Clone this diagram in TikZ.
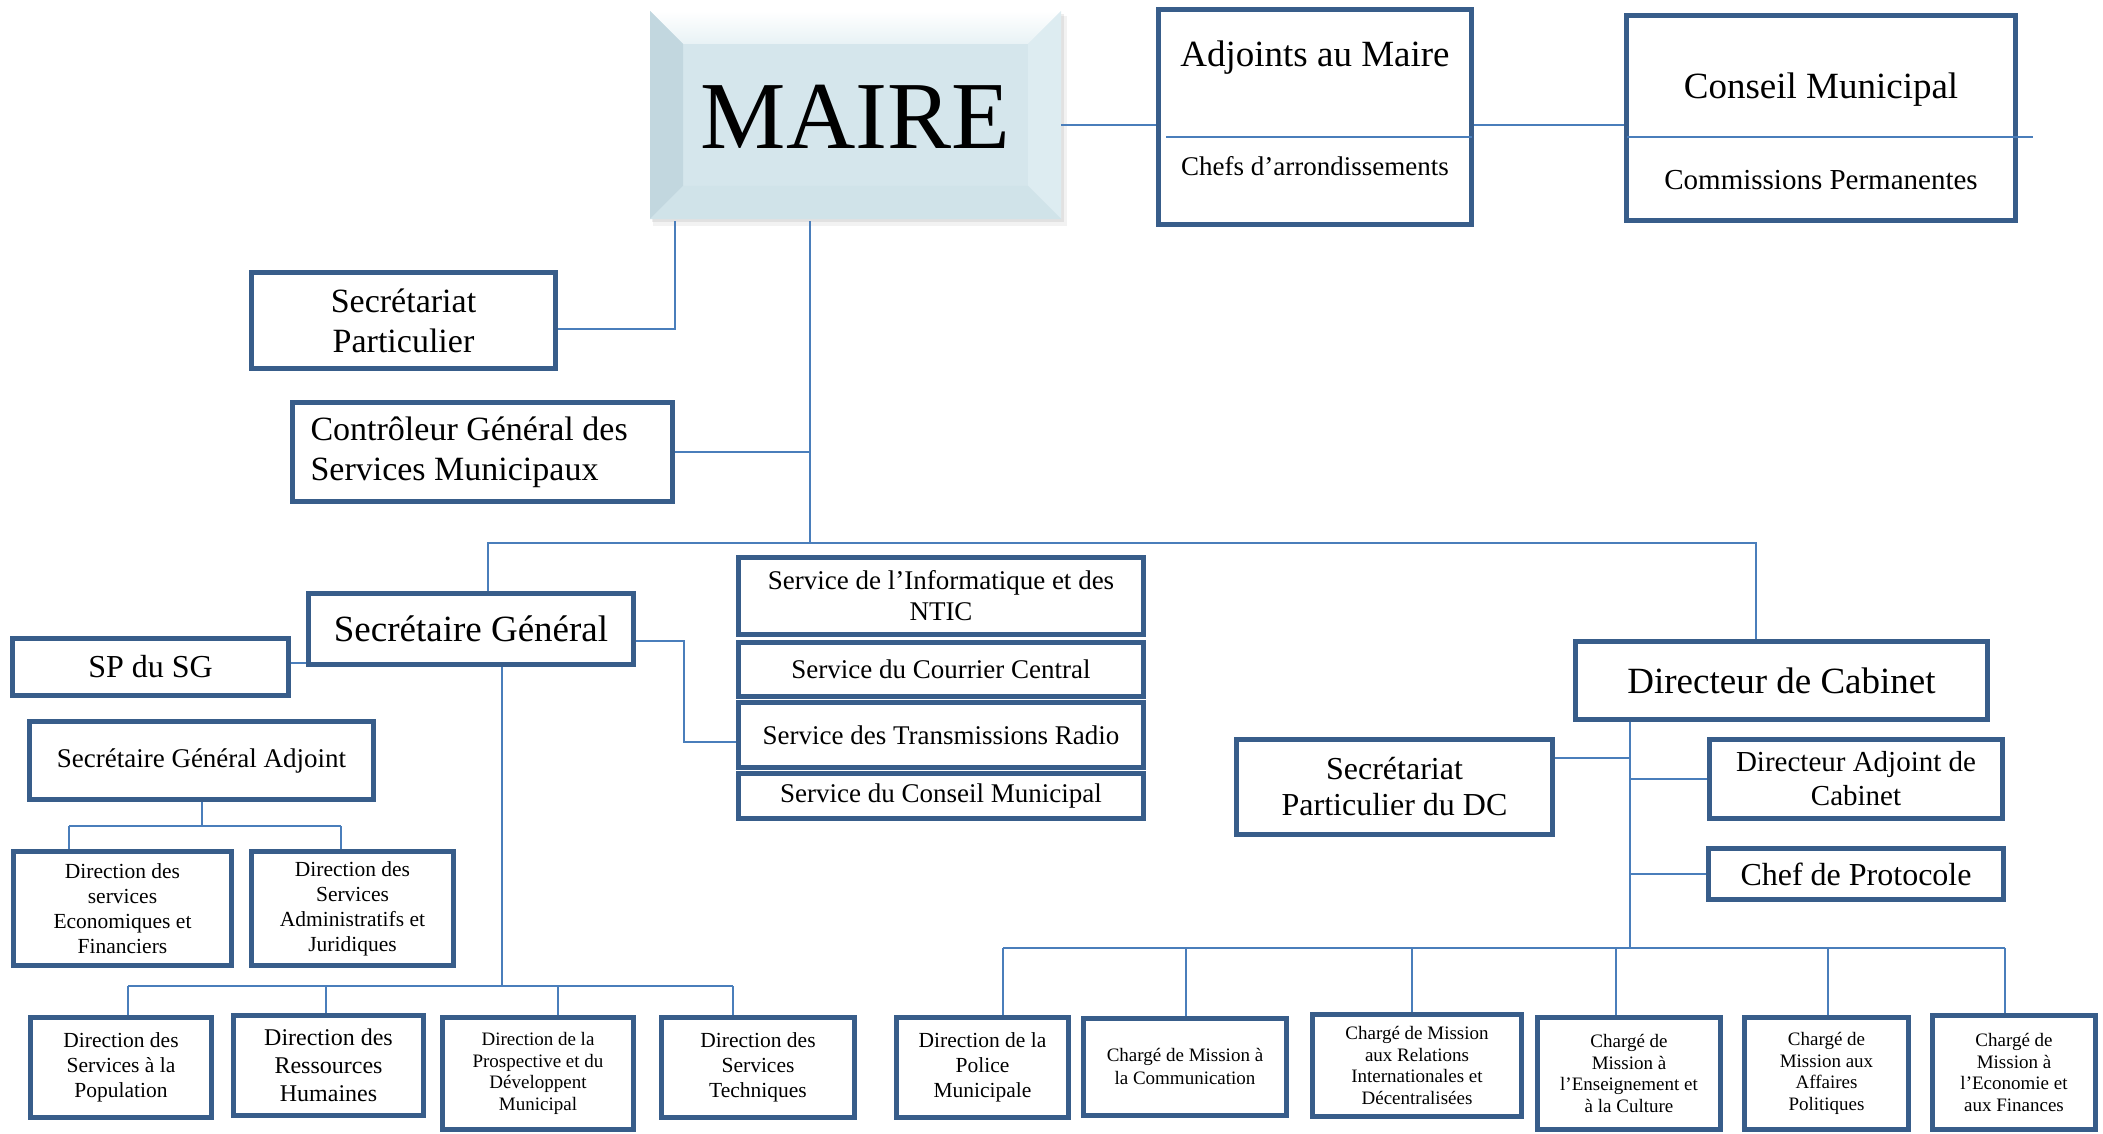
\documentclass[tikz,border=0pt]{standalone}
\usepackage{fontspec}
\setmainfont{Liberation Serif}
\definecolor{boxblue}{RGB}{56,93,138}
\definecolor{linkblue}{RGB}{74,126,187}
\definecolor{mairefill}{RGB}{213,230,236}
\definecolor{mairetop}{RGB}{232,242,245}
\definecolor{maireleft}{RGB}{194,215,223}
\definecolor{maireright}{RGB}{221,236,241}
\definecolor{mairebot}{RGB}{208,227,233}

\begin{document}
\begin{tikzpicture}[x=1pt,y=-1pt,
  box/.style={draw=boxblue,line width=5pt,fill=white,align=center,inner sep=0pt},
  link/.style={draw=linkblue,line width=2pt},
  huge/.style={font=\fontsize{37}{44}\selectfont},
  svc/.style={font=\fontsize{27}{31}\selectfont},
  dir/.style={font=\fontsize{21.5}{25}\selectfont},
  tiny/.style={font=\fontsize{19}{21.5}\selectfont}]
\useasboundingbox (0,0) rectangle (2103,1134);

% maire, bevelled
\fill[black,opacity=0.05] (653,16) rectangle (1067,226);
\fill[black,opacity=0.07] (652,14) rectangle (1064,222);
\fill[mairefill] (650,11) rectangle (1061,219);
\shade[top color=white,bottom color=mairetop] (650,11) -- (1061,11) -- (1028,44) -- (683,44) -- cycle;
\fill[maireleft] (650,11) -- (683,44) -- (683,186) -- (650,219) -- cycle;
\fill[maireright] (1061,11) -- (1028,44) -- (1028,186) -- (1061,219) -- cycle;
\fill[mairebot] (650,219) -- (683,186) -- (1028,186) -- (1061,219) -- cycle;
\node (maire) [minimum width=411pt,minimum height=208pt,inner sep=0pt,
  font=\fontsize{96}{100}\selectfont] at (855.5,117) {MAIRE};

\node[box,minimum width=313pt,minimum height=215pt] (adj) at (1315,117) {};
\node[huge] (adjt) at (1315,58) {Adjoints au Maire};
\node[font=\fontsize{27}{32}\selectfont] (adjb) at (1315,166) {Chefs d’arrondissements};
\draw[link] (1166,137) -- (1472,137);

\node[box,minimum width=389pt,minimum height=205pt] (cons) at (1821,118) {};
\node[huge] (const) at (1821,90) {Conseil Municipal};
\node[font=\fontsize{29}{34}\selectfont] (consb) at (1821,180) {Commissions Permanentes};
\draw[link] (1627,137) -- (2033,137);

\node[box,font=\fontsize{34}{40}\selectfont,minimum width=304pt,minimum height=96pt] (secpart) at (403.5,320.5) {Secrétariat\\Particulier};
\node[box,font=\fontsize{34}{40}\selectfont,align=flush left,text width=344pt,minimum width=380pt,minimum height=99pt] (ctrl) at (482.5,452) {Contrôleur Général des\\Services Municipaux};

% secretaire general
\node[box,huge,minimum width=325pt,minimum height=71pt] (sg) at (471,629) {Secrétaire Général};
\node[box,font=\fontsize{32}{38}\selectfont,minimum width=276pt,minimum height=57pt] (spsg) at (150.5,667) {SP du SG};
\node[box,svc,minimum width=344pt,minimum height=78pt] (sga) at (201.5,760.5) {Secrétaire Général Adjoint};
\node[box,svc,minimum width=405pt,minimum height=77pt] (svinfo) at (941,596) {Service de l’Informatique et des\\NTIC};
\node[box,svc,minimum width=405pt,minimum height=54pt] (svcour) at (941,669.5) {Service du Courrier Central};
\node[box,svc,minimum width=405pt,minimum height=65pt] (svradio) at (941,735) {Service des Transmissions Radio};
\node[box,svc,minimum width=405pt,minimum height=45pt] (svcons) at (941,796) {Service du Conseil Municipal};

\node[box,dir,minimum width=218pt,minimum height=114pt] (deco) at (122.5,908.5) {Direction des\\services\\Economiques et\\Financiers};
\node[box,dir,minimum width=202pt,minimum height=114pt] (dadm) at (352.5,908.5) {Direction des\\Services\\Administratifs et\\Juridiques};
\node[box,dir,minimum width=181pt,minimum height=100pt] (dpop) at (121,1067.5) {Direction des\\Services à la\\Population};
\node[box,font=\fontsize{24}{28}\selectfont,minimum width=190pt,minimum height=100pt] (drh) at (328.5,1065.5) {Direction des\\Ressources\\Humaines};
\node[box,tiny,minimum width=191pt,minimum height=112pt] (dprosp) at (538,1073.5) {Direction de la\\Prospective et du\\Développent\\Municipal};
\node[box,dir,minimum width=193pt,minimum height=100pt] (dtech) at (758,1067.5) {Direction des\\Services\\Techniques};

% directeur de cabinet
\node[box,huge,minimum width=412pt,minimum height=78pt] (dc) at (1781.5,680.5) {Directeur de Cabinet};
\node[box,font=\fontsize{32}{36}\selectfont,minimum width=316pt,minimum height=95pt] (spdc) at (1394.5,787) {Secrétariat\\Particulier du DC};
\node[box,font=\fontsize{29}{34}\selectfont,minimum width=293pt,minimum height=79pt] (dadj) at (1856,779) {Directeur Adjoint de\\Cabinet};
\node[box,font=\fontsize{32}{38}\selectfont,minimum width=295pt,minimum height=51pt] (chef) at (1856,874) {Chef de Protocole};

\node[box,dir,minimum width=172pt,minimum height=100pt] (police) at (982.5,1067.5) {Direction de la\\Police\\Municipale};
\node[box,font=\fontsize{19}{23}\selectfont,minimum width=203pt,minimum height=97pt] (comm) at (1185,1066.5) {Chargé de Mission à\\la Communication};
\node[box,tiny,minimum width=209pt,minimum height=102pt] (relint) at (1417,1065.5) {Chargé de Mission\\aux Relations\\Internationales et\\Décentralisées};
\node[box,tiny,minimum width=183pt,minimum height=112pt] (ens) at (1629,1073.5) {Chargé de\\Mission à\\l’Enseignement et\\à la Culture};
\node[box,tiny,minimum width=164pt,minimum height=112pt] (affpol) at (1826.5,1073.5) {Chargé de\\Mission aux\\Affaires\\Politiques};
\node[box,tiny,minimum width=163pt,minimum height=114pt] (eco) at (2014,1072.5) {Chargé de\\Mission à\\l’Economie et\\aux Finances};

% liaisons
\coordinate (mline) at (0,125);
\draw[link] (maire.east |- mline) -- (adj.west |- mline);
\draw[link] (adj.east |- mline) -- (cons.west |- mline);
\draw[link] (secpart.east |- 0,329) -- (675,329) -- (675,0 |- maire.south);
\draw[link] (810,0 |- maire.south) -- (810,543);
\draw[link] (ctrl.east) -- (810,452);
\draw[link] (488,0 |- sg.north) -- (488,543) -- (1756,543) -- (1756,0 |- dc.north);

\draw[link] (spsg.east |- 0,663) -- (sg.west |- 0,663);
\draw[link] (sg.east |- 0,641) -- (684,641) -- (684,742) -- (svradio.west |- 0,742);
\draw[link] (sga.south) -- (sga.south |- 0,826);
\draw[link] (69,826) -- (341,826);
\draw[link] (69,826) -- (deco.north -| 69,0);
\draw[link] (341,826) -- (dadm.north -| 341,0);
\coordinate (jsgb) at (502,986);
\draw[link] (sg.south -| jsgb) -- (jsgb);
\draw[link] (128,986) -- (733,986);
\foreach \n/\x in {dpop/128,drh/326,dprosp/558,dtech/733}
  \draw[link] (\x,986) -- (\n.north -| \x,0);

\coordinate (jdcb) at (1630,948);
\draw[link] (dc.south -| jdcb) -- (jdcb);
\draw[link] (spdc.east |- 0,758) -- (jdcb |- 0,758);
\draw[link] (dadj.west) -- (dadj.west -| jdcb);
\draw[link] (chef.west) -- (chef.west -| jdcb);
\draw[link] (1003,948) -- (2005,948);
\foreach \n/\x in {police/1003,comm/1186,relint/1412,ens/1616,affpol/1828,eco/2005}
  \draw[link] (\x,948) -- (\n.north -| \x,0);
\end{tikzpicture}
\end{document}
